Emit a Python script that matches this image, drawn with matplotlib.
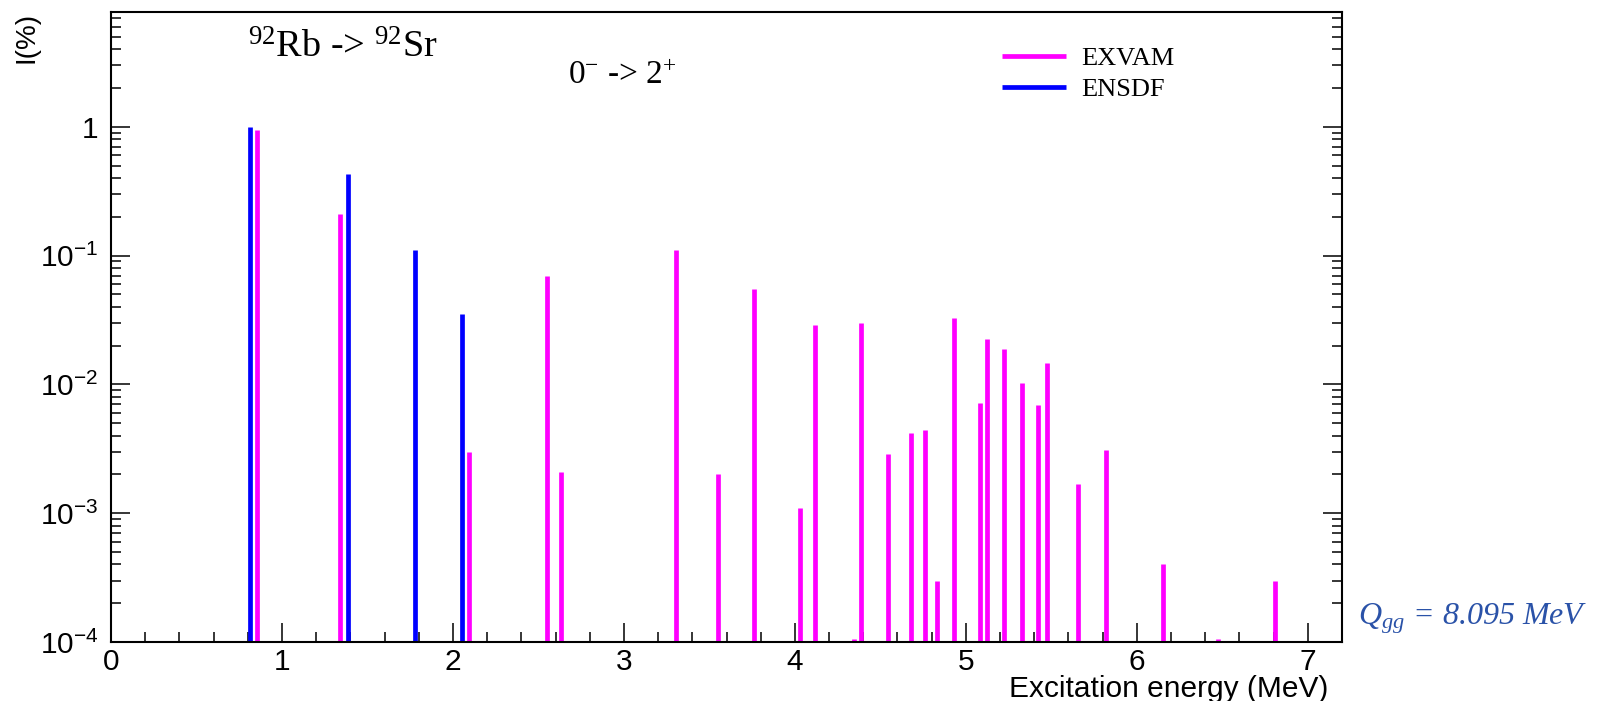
# 92Rb -> 92Sr beta feeding intensities, EXVAM vs ENSDF
import numpy as np
import matplotlib
matplotlib.use('Agg')
import matplotlib.pyplot as plt
from matplotlib.ticker import MultipleLocator, LogLocator, FuncFormatter, NullFormatter

# excitation energies (MeV) and intensities (%)
exvam_e = [0.854, 1.337, 2.092, 2.551, 2.632, 3.302, 3.550, 3.760, 4.031, 4.119,
           4.347, 4.384, 4.544, 4.678, 4.758, 4.830, 4.932, 5.082, 5.123, 5.222,
           5.326, 5.422, 5.474, 5.654, 5.820, 6.152, 6.477, 6.810]
exvam_i = [0.95, 0.21, 0.0030, 0.070, 0.0021, 0.11, 0.0020, 0.055, 0.0011, 0.029,
           0.000105, 0.030, 0.0029, 0.0042, 0.0044, 0.0003, 0.033, 0.0072, 0.0225, 0.0187,
           0.0102, 0.0069, 0.0147, 0.0017, 0.0031, 0.0004, 0.000105, 0.0003]

ensdf_e = [0.815, 1.384, 1.778, 2.053]
ensdf_i = [1.0, 0.43, 0.11, 0.035]

ymin, ymax = 1e-4, 7.8

plt.rcParams['font.family'] = 'Liberation Sans'
plt.rcParams['mathtext.fontset'] = 'custom'
plt.rcParams['mathtext.rm'] = 'Liberation Sans'
plt.rcParams['mathtext.it'] = 'Liberation Sans:italic'
plt.rcParams['mathtext.default'] = 'regular'

fig = plt.figure(figsize=(15.98, 7.01), dpi=100)
ax = fig.add_subplot(111)
fig.subplots_adjust(left=0.0695, right=0.8398, bottom=0.0842, top=0.983)

h1 = ax.vlines(exvam_e, ymin, exvam_i, color='#ff00ff', lw=3.4, label='EXVAM')
h2 = ax.vlines(ensdf_e, ymin, ensdf_i, color='#0000ff', lw=3.4, label='ENSDF')

ax.set_yscale('log')
ax.set_xlim(0, 7.2)
ax.set_ylim(ymin, ymax)

ax.xaxis.set_major_locator(MultipleLocator(1))
ax.xaxis.set_minor_locator(MultipleLocator(0.2))
ax.yaxis.set_major_locator(LogLocator(base=10))
ax.yaxis.set_minor_locator(LogLocator(base=10, subs=np.arange(2, 10)))
ax.yaxis.set_minor_formatter(NullFormatter())
ax.yaxis.set_major_formatter(FuncFormatter(
    lambda v, p: '1' if abs(v - 1) < 1e-9 else r'$10^{%d}$' % round(np.log10(v))))

ax.tick_params(which='both', direction='in', right=True, top=False, width=1.1)
ax.tick_params(which='major', length=14, labelsize=21.5)
ax.tick_params(which='minor', length=7)
ax.tick_params(axis='x', which='major', pad=4)
ax.tick_params(axis='y', which='major', pad=9)
for s in ax.spines.values():
    s.set_linewidth(1.5)

ax.set_ylabel('I(%)', loc='top', fontsize=20)
ax.yaxis.set_label_coords(-0.058, 1.0)
ax.set_xlabel('Excitation energy (MeV)', loc='right', fontsize=21.5)
ax.xaxis.set_label_coords(0.9886, -0.052)

ax.text(0.111, 0.927, r'$^{92}$Rb -> $^{92}$Sr', transform=ax.transAxes,
        family='Liberation Serif', math_fontfamily='stix', fontsize=27.5, va='baseline')
ax.text(0.371, 0.886, r'0$^{-}$ -> 2$^{+}$', transform=ax.transAxes,
        family='Liberation Serif', math_fontfamily='stix', fontsize=24, va='baseline')

ax.legend(handles=[h1, h2], loc='upper left', bbox_to_anchor=(0.724, 0.945),
          frameon=False, borderaxespad=0, borderpad=0, handlelength=2.4,
          handletextpad=0.6, labelspacing=0.3,
          prop={'family': 'Liberation Serif', 'size': 19})

fig.text(1358 / 1598, 1 - 625 / 701, r'$Q_{gg}$ = 8.095 MeV', family='Liberation Serif',
         style='italic', math_fontfamily='stix', fontsize=23, color='#2a52a8', va='baseline')

fig.savefig('out.png', dpi=100)
